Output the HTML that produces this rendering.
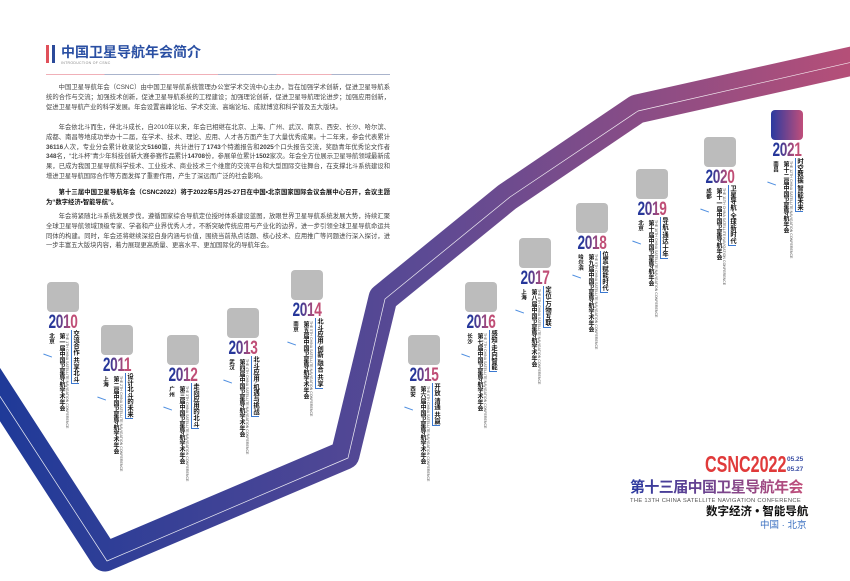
<!DOCTYPE html>
<html><head><meta charset="utf-8"><style>
*{margin:0;padding:0;box-sizing:border-box}
body{width:850px;height:581px;background:#fff;position:relative;overflow:hidden;font-family:"Liberation Sans","Noto Sans CJK SC",sans-serif}
.abs{position:absolute}
.p{position:absolute;left:46px;width:344px;font-size:6.3px;line-height:9.8px;color:#444;text-align:justify;text-indent:2em}
.sq{position:absolute;width:32px;height:30px;background:#bcbcbc;border-radius:4px}
.yr{position:absolute;width:48px;height:18px;font-weight:bold;font-size:19px;line-height:18px;letter-spacing:-0.5px;text-align:center;white-space:nowrap;background:linear-gradient(90deg,#26379a 25%,#c04e76 75%);-webkit-background-clip:text;background-clip:text;color:transparent;transform:scaleX(0.72)}
.v{position:absolute;writing-mode:vertical-rl;font-size:6px;line-height:7px;color:#111;font-weight:bold;white-space:nowrap}
.e{position:absolute;writing-mode:vertical-rl;font-size:3.6px;line-height:4px;color:#555;white-space:nowrap}
.th{position:absolute;writing-mode:vertical-rl;font-size:6.3px;line-height:7px;color:#111;font-weight:bold;white-space:nowrap;border-left:1.2px solid #3a78d0;border-bottom:1.2px solid #3a78d0;padding-bottom:1px}
.wv{position:absolute;width:9px;height:2px;border-top:1px solid #4f8fe0;transform:rotate(20deg)}
</style></head><body>
<svg class="abs" style="left:0;top:0" width="850" height="581">
<defs><linearGradient id="g" x1="0" y1="0" x2="850" y2="0" gradientUnits="userSpaceOnUse">
<stop offset="0" stop-color="#1f3a98"/><stop offset="0.5" stop-color="#5c4a94"/><stop offset="1" stop-color="#b54f78"/></linearGradient></defs>
<polyline points="-12,376 105,557 345,455 383,298 507,197 637,109 870,57" fill="none" stroke="url(#g)" stroke-width="29" stroke-linejoin="round"/>
<polyline points="-12,378 107,561 348,458 385,299 510,197 638,111 870,58" fill="none" stroke="#fff" stroke-width="0.7" stroke-linejoin="round" opacity="0.9"/>
</svg>

<div class="abs" style="left:46px;top:45px;width:2.5px;height:18px;background:#e0505a"></div>
<div class="abs" style="left:52px;top:45px;width:2.5px;height:18px;background:#2b4a9a"></div>
<div class="abs" style="left:61px;top:44px;font-size:14px;font-weight:bold;color:#2a4fa3;line-height:16px">中国卫星导航年会简介</div>
<div class="abs" style="left:61px;top:61px;font-size:3.5px;color:#888;letter-spacing:0.3px">INTRODUCTION OF CSNC</div>
<div class="abs" style="left:46px;top:74px;width:344px;height:1px;background:linear-gradient(90deg,#f0b0b8 0 17%,#aab4cc 17% 33%,#f0b0b8 33% 50%,#aab4cc 50% 67%,#f0b0b8 67% 83%,#aab4cc 83%)"></div>

<div class="p" style="top:83px">中国卫星导航年会（CSNC）由中国卫星导航系统管理办公室学术交流中心主办，旨在加强学术创新，促进卫星导航系统的合作与交流；加强技术创新，促进卫星导航系统的工程建设；加强理论创新，促进卫星导航理论进步；加强应用创新，促进卫星导航产业的科学发展。年会设置高峰论坛、学术交流、高端论坛、成就博览和科学普及五大版块。</div>
<div class="p" style="top:123px">年会依北斗而生，伴北斗成长，自2010年以来，年会已相继在北京、上海、广州、武汉、南京、西安、长沙、哈尔滨、成都、南昌等地成功举办十二届，在学术、技术、理论、应用、人才各方面产生了大量优秀成果。十二年来，参会代表累计<b>36116</b>人次，专业分会累计收录论文<b>5160</b>篇，共计进行了<b>1743</b>个特邀报告和<b>2025</b>个口头报告交流，奖励青年优秀论文作者<b>348</b>名，“北斗杯”青少年科技创新大赛参赛作品累计<b>14708</b>份，参展单位累计<b>1502</b>家次。年会全方位展示卫星导航领域最新成果，已成为我国卫星导航科学技术、工业技术、商业技术三个维度的交流平台和大型国际交往舞台，在支撑北斗系统建设和增进卫星导航国际合作等方面发挥了重要作用，产生了深远而广泛的社会影响。</div>
<div class="p" style="top:188px;font-weight:bold;color:#111">第十三届中国卫星导航年会（CSNC2022）将于2022年5月25-27日在中国•北京国家国际会议会展中心召开，会议主题为“数字经济•智能导航”。</div>
<div class="p" style="top:212px">年会将紧随北斗系统发展步伐，遵循国家综合导航定位授时体系建设蓝图，放眼世界卫星导航系统发展大势，持续汇聚全球卫星导航领域顶级专家、学者和产业界优秀人才，不断突破传统应用与产业化的边界，进一步引领全球卫星导航命运共同体的构建。同时，年会还将继续深挖自身内涵与价值，围绕当前热点话题、核心技术、应用推广等问题进行深入探讨，进一步丰富五大版块内容，着力展现更高质量、更高水平、更加国际化的导航年会。</div>

<div id="items"></div>

<div class="abs" style="left:705px;top:452px;font-size:23px;font-weight:bold;color:#e03a3a;line-height:24px;transform:scaleX(0.7);transform-origin:left">CSNC2022</div>
<div class="abs" style="left:787px;top:455px;font-size:6.5px;font-weight:bold;color:#3b4fa5;line-height:10px">05.25<br>05.27</div>
<div class="abs" style="left:630px;top:479px;font-size:15px;font-weight:bold;line-height:18px;letter-spacing:-0.6px;background:linear-gradient(90deg,#2a3aa0,#c04e7a);-webkit-background-clip:text;background-clip:text;color:transparent">第十三届中国卫星导航年会</div>
<div class="abs" style="left:630px;top:498px;font-size:5.8px;color:#555;letter-spacing:0.3px">THE 13TH CHINA SATELLITE NAVIGATION CONFERENCE</div>
<div class="abs" style="left:706px;top:505px;font-size:11.5px;font-weight:bold;color:#111;line-height:14px">数字经济 • 智能导航</div>
<div class="abs" style="left:760px;top:520px;font-size:9.5px;color:#3a6fc0;line-height:12px">中国 · 北京</div>

<script>
var d=[[47,282,"2010","北京","第一届中国卫星导航学术年会","交流合作 共享北斗"],
[101,325,"2011","上海","第二届中国卫星导航学术年会","设计北斗的未来"],
[167,335,"2012","广州","第三届中国卫星导航学术年会","走向应用的北斗"],
[227,308,"2013","武汉","第四届中国卫星导航学术年会","北斗应用·机遇与挑战"],
[291,270,"2014","南京","第五届中国卫星导航学术年会","北斗应用·创新 融合 共享"],
[408,335,"2015","西安","第六届中国卫星导航学术年会","开放 清通 共赢"],
[465,282,"2016","长沙","第七届中国卫星导航学术年会","感知·走向智能"],
[519,238,"2017","上海","第八届中国卫星导航学术年会","定位·万物互联"],
[576,203,"2018","哈尔滨","第九届中国卫星导航学术年会","位置·赋能时代"],
[636,169,"2019","北京","第十届中国卫星导航年会","导航·通达十年"],
[704,137,"2020","成都","第十一届中国卫星导航年会","卫星导航·全球新时代"],
[771,110,"2021","南昌","第十二届中国卫星导航年会","时空数据 智能未来"]];
var h="";
d.forEach(function(a){var x=a[0],y=a[1];
var sq=a[2]=="2021"?"background:linear-gradient(90deg,#2a3aa0,#c04e7a)":"";
h+='<div class="sq" style="left:'+x+'px;top:'+y+'px;'+sq+'"></div>';
h+='<div class="yr" style="left:'+(x-8)+'px;top:'+(y+32)+'px">'+a[2]+'</div>';
var t=y+51;
h+='<div class="v" style="left:'+(x)+'px;top:'+t+'px;font-size:5.5px">'+a[3]+'</div>';
h+='<div class="wv" style="left:'+(x-4)+'px;top:'+(t+22)+'px"></div>';
h+='<div class="v" style="left:'+(x+10)+'px;top:'+t+'px">'+a[4]+'</div>';
h+='<div class="e" style="left:'+(x+18)+'px;top:'+t+'px">THE '+(d.indexOf(a)+1)+'TH CHINA SATELLITE NAVIGATION CONFERENCE</div>';
h+='<div class="th" style="left:'+(x+24)+'px;top:'+(t-3)+'px">'+a[5]+'</div>';
});
document.getElementById("items").innerHTML=h;
</script>
</body></html>
